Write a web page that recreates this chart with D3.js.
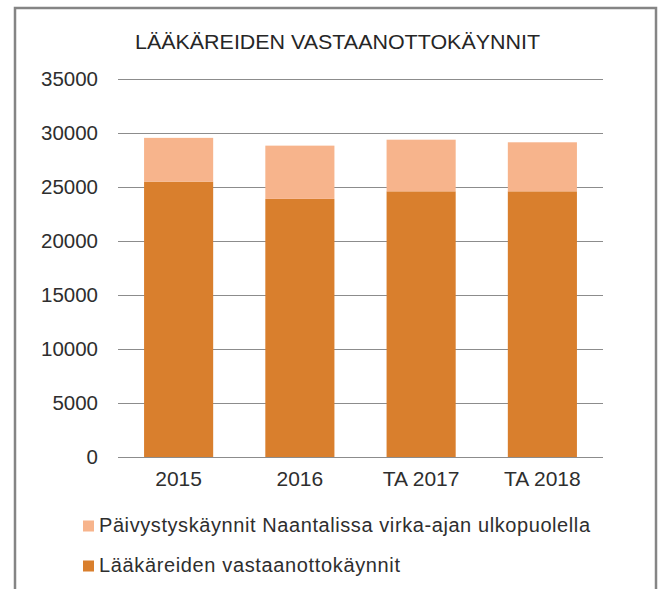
<!DOCTYPE html>
<html>
<head>
<meta charset="utf-8">
<script src="https://cdn.jsdelivr.net/npm/d3@7"></script>
<style>
  body { margin: 0; background: #fff; }
  text { font-family: "Liberation Sans", Arial, sans-serif; fill: #2e2e2e; }
</style>
</head>
<body>
<svg id="chart"></svg>
<script>
// data
var categories = ["2015", "2016", "TA 2017", "TA 2018"];
var vastaanotto = [25500, 23900, 24600, 24600];   // Lääkäreiden vastaanottokäynnit
var paivystys = [4050, 4930, 4780, 4540];          // Päivystyskäynnit ...
var yTicks = [0, 5000, 10000, 15000, 20000, 25000, 30000, 35000];
var seriesNames = ["Päivystyskäynnit Naantalissa virka-ajan ulkopuolella", "Lääkäreiden vastaanottokäynnit"];
var colors = {dark: "#d97f2d", light: "#f7b48c"};

var W = 660, H = 589;
var margin = {top: 79, right: 57, bottom: 132, left: 118},
    width = W - margin.left - margin.right,
    height = H - margin.top - margin.bottom;

var svg = d3.select("#chart")
    .attr("width", W)
    .attr("height", H);

// outer frame
svg.append("rect")
  .attr("x", 15).attr("y", 8)
  .attr("width", 641).attr("height", 620)
  .attr("fill", "none")
  .attr("stroke", "#858585")
  .attr("stroke-width", 2.5);

// title
svg.append("text")
  .attr("x", 135)
  .attr("y", 49)
  .attr("font-size", 20)
  .attr("textLength", 405)
  .attr("lengthAdjust", "spacingAndGlyphs")
  .style("fill", "#262626")
  .text("LÄÄKÄREIDEN VASTAANOTTOKÄYNNIT");

var g = svg.append("g")
    .attr("transform", "translate(" + margin.left + "," + margin.top + ")");

var x = d3.scaleBand()
  .domain(categories)
  .range([0, width])
  .paddingInner(0.43)
  .paddingOuter(0.215);

var y = d3.scaleLinear()
  .domain([0, 35000])
  .range([height, 0]);

// gridlines
g.append("g")
  .selectAll("line")
  .data(yTicks)
  .enter().append("line")
    .attr("x1", 0).attr("x2", width)
    .attr("y1", function(d) { return Math.round(y(d)) + 0.5; })
    .attr("y2", function(d) { return Math.round(y(d)) + 0.5; })
    .attr("stroke", "#8c8c8c")
    .attr("stroke-width", 1.2);

// y axis labels
var yAxis = g.append("g")
  .call(d3.axisLeft(y).tickValues(yTicks).tickSize(0).tickPadding(20).tickFormat(d3.format("d")));
yAxis.select(".domain").remove();
yAxis.selectAll("text").attr("font-size", 20.5).attr("font-family", null);

// stacked bars
var stackData = categories.map(function(c, i) {
  return {cat: c, base: vastaanotto[i], top: paivystys[i]};
});

g.selectAll("rect.base")
  .data(stackData)
  .enter().append("rect")
    .attr("class", "base")
    .attr("x", function(d) { return x(d.cat); })
    .attr("width", x.bandwidth())
    .attr("y", function(d) { return y(d.base); })
    .attr("height", function(d) { return height - y(d.base); })
    .attr("fill", colors.dark);

g.selectAll("rect.top")
  .data(stackData)
  .enter().append("rect")
    .attr("class", "top")
    .attr("x", function(d) { return x(d.cat); })
    .attr("width", x.bandwidth())
    .attr("y", function(d) { return y(d.base + d.top); })
    .attr("height", function(d) { return y(d.base) - y(d.base + d.top); })
    .attr("fill", colors.light);

// x axis labels
var xAxis = g.append("g")
  .attr("transform", "translate(0," + height + ")")
  .call(d3.axisBottom(x).tickSize(0).tickPadding(14));
xAxis.select(".domain").remove();
xAxis.selectAll("text").attr("font-size", 21).attr("font-family", null);

// legend
var legend = svg.append("g");
var legendItems = [
  {name: seriesNames[0], color: colors.light, y: 526, len: 491},
  {name: seriesNames[1], color: colors.dark, y: 566, len: 301}
];
legendItems.forEach(function(d) {
  legend.append("rect")
    .attr("x", 83).attr("y", d.y - 5.5)
    .attr("width", 11).attr("height", 11)
    .attr("fill", d.color);
  legend.append("text")
    .attr("x", 99).attr("y", d.y + 6)
    .attr("font-size", 20)
    .attr("textLength", d.len)
    .attr("lengthAdjust", "spacing")
    .text(d.name);
});
</script>
</body>
</html>
